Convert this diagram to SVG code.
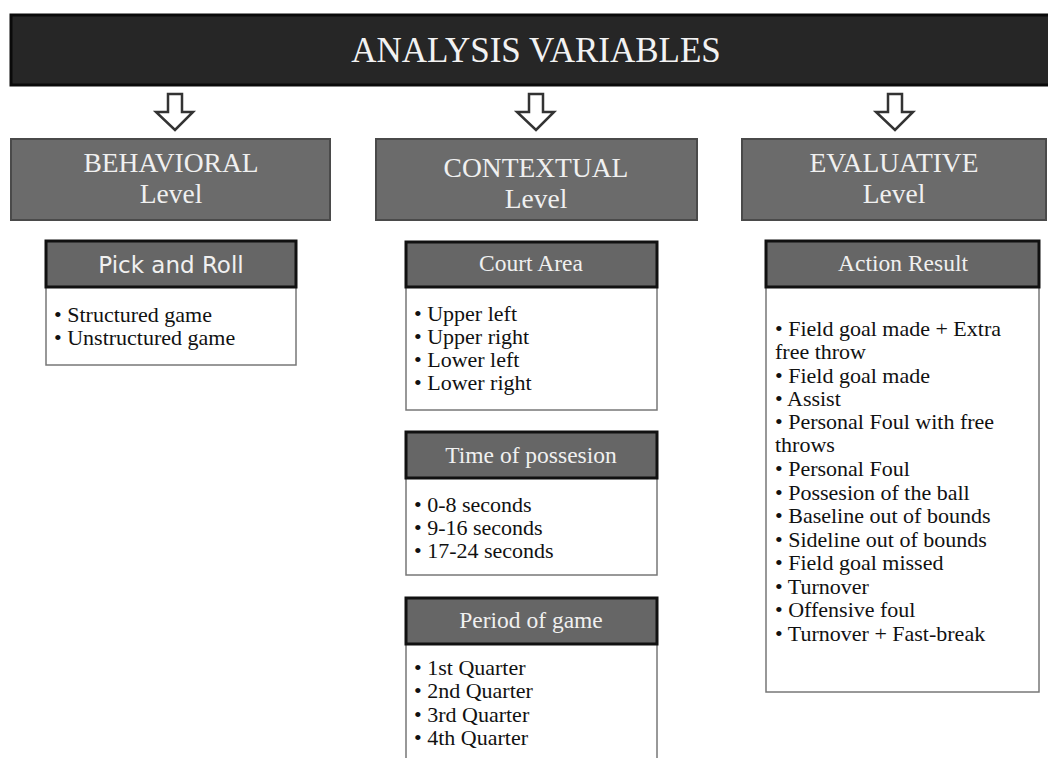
<svg xmlns="http://www.w3.org/2000/svg" width="1048" height="758" viewBox="0 0 1048 758">
<defs>
<style>
.title{font-family:"Liberation Serif","Times New Roman",serif;font-size:35px;fill:#f2f2f2;text-anchor:middle}
.lvl{fill:#6b6b6b;stroke:#4a4a4a;stroke-width:2}
.lvlt{font-family:"Liberation Serif","Times New Roman",serif;font-size:27.5px;fill:#f0f0f0;text-anchor:middle}
.hdr{fill:#666;stroke:#111;stroke-width:3}
.hdrt{font-family:"Liberation Serif","Times New Roman",serif;font-size:23.5px;fill:#f0f0f0;text-anchor:middle}
.hdrs{font-family:"DejaVu Sans",sans-serif;font-size:23px;fill:#f0f0f0;text-anchor:middle}
.body{fill:#fff;stroke:#777;stroke-width:1.5}
.bt{font-family:"Liberation Serif","Times New Roman",serif;font-size:22px;fill:#111}
.arr{fill:#fff;stroke:#333;stroke-width:2.5;stroke-linejoin:miter}
</style>
</defs>
<rect width="1048" height="758" fill="#fff"/>
<g id="title">
<rect x="11" y="15" width="1040" height="70" fill="#262626" stroke="#0a0a0a" stroke-width="3"/>
<text class="title" x="536" y="62">ANALYSIS VARIABLES</text>
</g>
<g id="connectors">
<path class="arr" d="M168,94 H182 V112 H193 L175,130 L156,112 H168 Z"/>
<path class="arr" d="M529,94 H543 V112 H554 L536,130 L517,112 H529 Z"/>
<path class="arr" d="M888,94 H902 V112 H913 L895,130 L876,112 H888 Z"/>
</g>
<g id="behavioral">
<rect class="lvl" x="11" y="139" width="319" height="81"/>
<text class="lvlt" x="171" y="172">BEHAVIORAL</text>
<text class="lvlt" x="171" y="203">Level</text>
</g>
<g id="contextual">
<rect class="lvl" x="376" y="139" width="321" height="81"/>
<text class="lvlt" x="536" y="177">CONTEXTUAL</text>
<text class="lvlt" x="536" y="208">Level</text>
</g>
<g id="evaluative">
<rect class="lvl" x="742" y="139" width="304" height="81"/>
<text class="lvlt" x="894" y="172">EVALUATIVE</text>
<text class="lvlt" x="894" y="203">Level</text>
</g>
<g id="pick-and-roll">
<rect class="body" x="46" y="287" width="250" height="78"/>
<rect class="hdr" x="46" y="241" width="250" height="46"/>
<text class="hdrs" x="171" y="273">Pick and Roll</text>
<text class="bt" x="54" y="322">• Structured game</text>
<text class="bt" x="54" y="345">• Unstructured game</text>
</g>
<g id="court-area">
<rect class="body" x="406" y="287" width="251" height="123"/>
<rect class="hdr" x="406" y="242" width="251" height="45"/>
<text class="hdrt" x="531" y="271">Court Area</text>
<text class="bt" x="414" y="321">• Upper left</text>
<text class="bt" x="414" y="344">• Upper right</text>
<text class="bt" x="414" y="367">• Lower left</text>
<text class="bt" x="414" y="390">• Lower right</text>
</g>
<g id="time-of-possesion">
<rect class="body" x="406" y="478" width="251" height="97"/>
<rect class="hdr" x="406" y="432" width="251" height="46"/>
<text class="hdrt" x="531" y="463">Time of possesion</text>
<text class="bt" x="414" y="512">• 0-8 seconds</text>
<text class="bt" x="414" y="535">• 9-16 seconds</text>
<text class="bt" x="414" y="558">• 17-24 seconds</text>
</g>
<g id="period-of-game">
<rect class="body" x="406" y="644" width="251" height="130"/>
<rect class="hdr" x="406" y="598" width="251" height="46"/>
<text class="hdrt" x="531" y="628">Period of game</text>
<text class="bt" x="414" y="675">•  1st Quarter</text>
<text class="bt" x="414" y="698">• 2nd Quarter</text>
<text class="bt" x="414" y="722">• 3rd Quarter</text>
<text class="bt" x="414" y="745">• 4th Quarter</text>
</g>
<g id="action-result">
<rect class="body" x="766" y="287" width="273" height="405"/>
<rect class="hdr" x="766" y="241" width="273" height="46"/>
<text class="hdrt" x="903" y="271">Action Result</text>
<text class="bt" x="775" y="336">•  Field goal made + Extra</text>
<text class="bt" x="775" y="359">free throw</text>
<text class="bt" x="775" y="383">• Field goal made</text>
<text class="bt" x="775" y="406">• Assist</text>
<text class="bt" x="775" y="429">• Personal Foul with free</text>
<text class="bt" x="775" y="452">throws</text>
<text class="bt" x="775" y="476">• Personal Foul</text>
<text class="bt" x="775" y="500">• Possesion of the ball</text>
<text class="bt" x="775" y="523">• Baseline out of bounds</text>
<text class="bt" x="775" y="547">• Sideline out of bounds</text>
<text class="bt" x="775" y="570">• Field goal missed</text>
<text class="bt" x="775" y="594">• Turnover</text>
<text class="bt" x="775" y="617">• Offensive foul</text>
<text class="bt" x="775" y="641">• Turnover + Fast-break</text>
</g>
</svg>
